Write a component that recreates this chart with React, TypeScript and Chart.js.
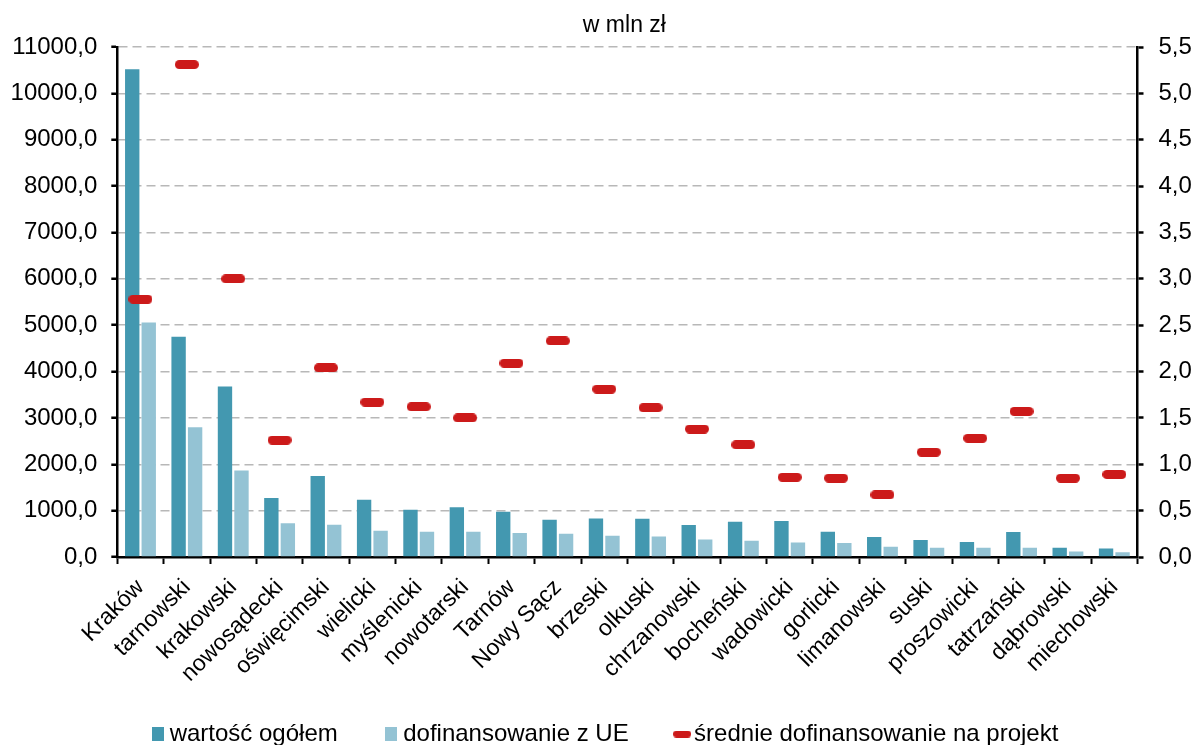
import React, { useEffect, useRef } from 'react';
import { Chart, registerables } from 'chart.js';

Chart.register(...registerables);

const categories = [
  'Kraków', 'tarnowski', 'krakowski', 'nowosądecki', 'oświęcimski', 'wielicki',
  'myślenicki', 'nowotarski', 'Tarnów', 'Nowy Sącz', 'brzeski', 'olkuski',
  'chrzanowski', 'bocheński', 'wadowicki', 'gorlicki', 'limanowski', 'suski',
  'proszowicki', 'tatrzański', 'dąbrowski', 'miechowski',
];

const totalValue = [
  10520, 4750, 3680, 1270, 1745, 1235, 1020, 1075, 975, 805, 830, 825,
  690, 760, 775, 545, 430, 365, 325, 540, 200, 185,
];

const euFunding = [
  5060, 2800, 1865, 730, 695, 565, 545, 545, 515, 500, 460, 440,
  380, 350, 315, 300, 220, 200, 200, 200, 120, 100,
];

const avgPerProject = [
  2.78, 5.31, 3.0, 1.26, 2.04, 1.67, 1.62, 1.5, 2.09, 2.33, 1.81, 1.61,
  1.38, 1.21, 0.86, 0.85, 0.67, 1.13, 1.28, 1.57, 0.85, 0.89,
];

const seriesLabels = ['wartość ogółem', 'dofinansowanie z UE', 'średnie dofinansowanie na projekt'];
const unitLabel = 'w mln zł';

const leftMax = 11000;
const leftStep = 1000;
const rightMax = 5.5;
const rightStep = 0.5;

const FONT = "'Liberation Sans', Arial, Helvetica, sans-serif";
const DARK = '#4398B0';
const LIGHT = '#94C3D4';
const RED = '#CC1A1A';

function makeIcon(w: number, h: number, r: number, color: string) {
  const c = document.createElement('canvas');
  c.width = w;
  c.height = h;
  const ctx = c.getContext('2d')!;
  ctx.fillStyle = color;
  ctx.beginPath();
  ctx.moveTo(r, 0);
  ctx.lineTo(w - r, 0);
  if (r > 0) ctx.arc(w - r, r, r, -Math.PI / 2, 0);
  ctx.lineTo(w, h - r);
  if (r > 0) ctx.arc(w - r, h - r, r, 0, Math.PI / 2);
  ctx.lineTo(r, h);
  if (r > 0) ctx.arc(r, h - r, r, Math.PI / 2, Math.PI);
  ctx.lineTo(0, r);
  if (r > 0) ctx.arc(r, r, r, Math.PI, Math.PI * 1.5);
  ctx.closePath();
  ctx.fill();
  return c;
}

const comma = (v: number, d: number) => Number(v).toFixed(d).replace('.', ',');

const CANVAS_W = 1216;
const CANVAS_H = 756;
const LEGEND_PAD = 20.1;
const LEGEND_GAP = '     ';

export default function App() {
  const ref = useRef<HTMLCanvasElement | null>(null);

  useEffect(() => {
    if (!ref.current) return;
    const redMarker = makeIcon(24, 9, 4.5, RED);
    const legendIcons = [
      makeIcon(12, 14, 0, DARK),
      makeIcon(12, 14, 0, LIGHT),
      makeIcon(18, 7, 3.5, RED),
    ];

    const unitTitlePlugin = {
      id: 'unitTitle',
      afterDraw(chart: any) {
        const { ctx, chartArea } = chart;
        ctx.save();
        ctx.font = `23px ${FONT}`;
        ctx.fillStyle = '#000';
        ctx.textAlign = 'center';
        ctx.textBaseline = 'middle';
        ctx.fillText(unitLabel, (chartArea.left + chartArea.right) / 2 - 3, chartArea.top - 21.5);
        ctx.restore();
      },
    };

    const tickFont = { family: FONT, size: 24 };
    const legendHeight = 24 + LEGEND_PAD + 10;

    const chart = new Chart(ref.current, {
      type: 'bar',
      data: {
        labels: categories,
        datasets: [
          {
            label: seriesLabels[0],
            data: totalValue,
            backgroundColor: DARK,
            yAxisID: 'y',
            order: 1,
            categoryPercentage: 0.712,
            barPercentage: 0.87,
          } as any,
          {
            label: seriesLabels[1],
            data: euFunding,
            backgroundColor: LIGHT,
            yAxisID: 'y',
            order: 1,
            categoryPercentage: 0.712,
            barPercentage: 0.87,
          } as any,
          {
            type: 'line',
            label: seriesLabels[2],
            data: avgPerProject,
            yAxisID: 'y1',
            showLine: false,
            pointStyle: redMarker,
            pointRadius: 6,
            pointHoverRadius: 6,
            backgroundColor: RED,
            borderColor: RED,
            order: 0,
          } as any,
        ],
      },
      options: {
        responsive: false,
        animation: false,
        layout: { padding: { left: 0, right: 0, top: 47, bottom: 0 } },
        plugins: {
          title: { display: false },
          tooltip: { enabled: false },
          legend: {
            position: 'bottom',
            labels: {
              usePointStyle: true,
              pointStyleWidth: 0.01,
              boxHeight: 14,
              padding: LEGEND_PAD,
              color: '#000',
              font: { family: FONT, size: 24 },
              generateLabels: (c: any) => {
                const items = (Chart.defaults.plugins.legend.labels as any).generateLabels(c);
                items.sort((a: any, b: any) => a.datasetIndex - b.datasetIndex);
                items.forEach((it: any, i: number) => {
                  it.pointStyle = legendIcons[it.datasetIndex];
                  if (i < items.length - 1) it.text = it.text + LEGEND_GAP;
                });
                return items;
              },
            },
          },
        },
        scales: {
          x: {
            grid: {
              display: true,
              drawOnChartArea: false,
              drawTicks: true,
              tickLength: 7,
              tickColor: '#000',
              tickWidth: 2,
              offset: true,
            },
            border: { color: '#000', width: 2.5 },
            ticks: {
              minRotation: 45,
              maxRotation: 45,
              autoSkip: false,
              padding: 10,
              color: '#000',
              font: { family: FONT, size: 23 },
            },
            afterFit: (s: any) => {
              s.height = CANVAS_H - legendHeight - 557;
            },
          },
          y: {
            position: 'left',
            min: 0,
            max: leftMax,
            ticks: {
              stepSize: leftStep,
              callback: (v: any) => comma(v, 1),
              padding: 14,
              color: '#000',
              font: tickFont,
            },
            grid: {
              color: '#b8b8b8',
              lineWidth: 1.5,
              tickLength: 6,
              tickColor: '#000',
              tickWidth: 2.5,
              tickBorderDash: [],
            },
            border: { color: '#000', width: 2.5, dash: [9, 5] },
            afterFit: (s: any) => {
              s.width = 117.3;
            },
          },
          y1: {
            position: 'right',
            min: 0,
            max: rightMax,
            ticks: {
              stepSize: rightStep,
              callback: (v: any) => comma(v, 1),
              padding: 15,
              color: '#000',
              font: tickFont,
            },
            grid: {
              drawOnChartArea: false,
              tickLength: 6,
              tickColor: '#000',
              tickWidth: 2.5,
            },
            border: { color: '#000', width: 2.5 },
            afterFit: (s: any) => {
              s.width = CANVAS_W - 1137.5;
            },
          },
        },
      } as any,
      plugins: [unitTitlePlugin],
    });

    return () => chart.destroy();
  }, []);

  return (
    <div
      style={{
        position: 'absolute',
        left: 0,
        top: 0,
        width: 1195,
        height: 745,
        overflow: 'hidden',
        background: '#fff',
      }}
    >
      <canvas ref={ref} width={CANVAS_W} height={CANVAS_H} style={{ display: 'block' }} />
    </div>
  );
}
